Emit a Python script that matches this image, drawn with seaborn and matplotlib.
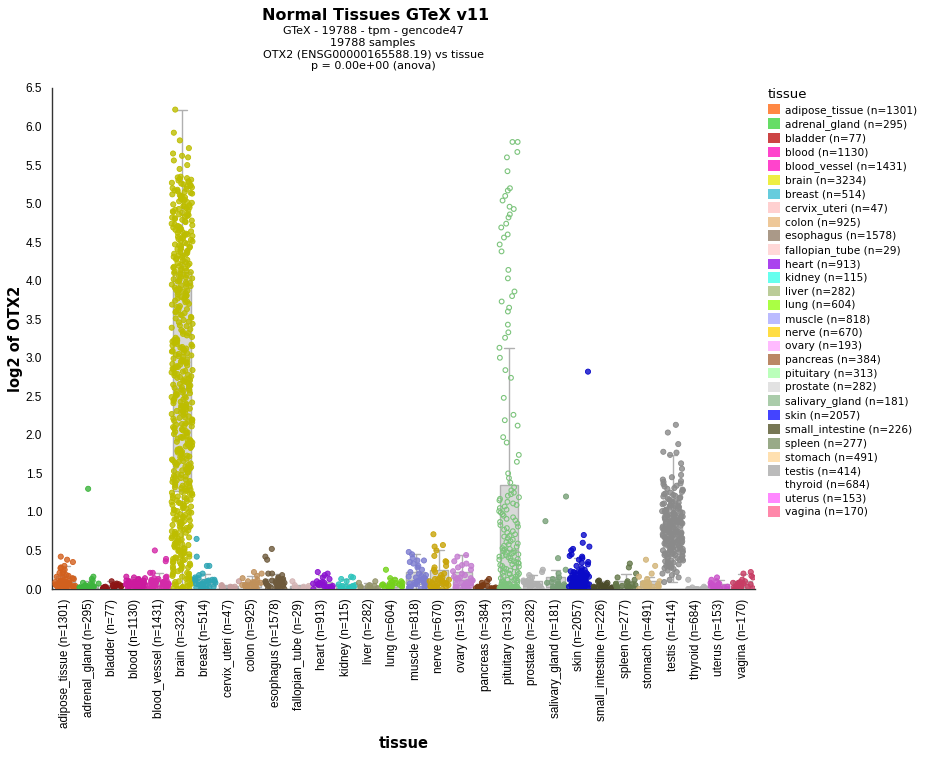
import numpy as np
import pandas as pd
import seaborn as sns
import matplotlib
import matplotlib.pyplot as plt
from matplotlib.patches import Patch

tissues = ["adipose_tissue", "adrenal_gland", "bladder", "blood", "blood_vessel", "brain",
           "breast", "cervix_uteri", "colon", "esophagus", "fallopian_tube", "heart",
           "kidney", "liver", "lung", "muscle", "nerve", "ovary", "pancreas", "pituitary",
           "prostate", "salivary_gland", "skin", "small_intestine", "spleen", "stomach",
           "testis", "thyroid", "uterus", "vagina"]
counts = [1301, 295, 77, 1130, 1431, 3234, 514, 47, 925, 1578, 29, 913, 115, 282, 604, 818,
          670, 193, 384, 313, 282, 181, 2057, 226, 277, 491, 414, 684, 153, 170]

# legend swatch colours
legend_colors = ["#ff8844", "#66dd66", "#cc4444", "#ff44cc", "#ff44cc", "#eeee44", "#66ccdd",
                 "#ffd0d0", "#eec899", "#aa9988", "#ffd8d8", "#aa44ee", "#66ffee", "#bbcc99",
                 "#aaff44", "#bbbbff", "#ffdd44", "#ffbbff", "#bb8866", "#bbffbb", "#e2e2e2",
                 "#aaccaa", "#4444ff", "#777755", "#99aa88", "#ffe0b0", "#bbbbbb", "#ffffff",
                 "#ff88ff", "#ff88aa"]
# colours of the points in the plot
point_colors = ["#d2601e", "#3cb43c", "#8c1414", "#cc1a9e", "#d42aa8", "#bdbd00", "#2ea5b4",
                "#c8a0a0", "#c0905a", "#6e5a3c", "#d4b4b4", "#8a10d0", "#2cc4bc", "#94946a",
                "#74d21a", "#7c7cd0", "#c8a408", "#c47cd0", "#7a3a14", "#7cc47c", "#b0b0b0",
                "#78a078", "#0a0ac8", "#4a4a28", "#64784a", "#d2b478", "#8a8a8a", "#b4b4b4",
                "#c850c8", "#c83c64"]

# log2 expression values (a sample of each tissue)
adipose_tissue = [0.0, 0.01, 0.02, 0.02, 0.03, 0.03, 0.04, 0.04, 0.05, 0.05, 0.06, 0.06, 0.07, 0.07,
                  0.08, 0.08, 0.09, 0.09, 0.1, 0.1, 0.11, 0.11, 0.12, 0.01, 0.03, 0.05, 0.07, 0.09,
                  0.0, 0.02, 0.04, 0.06, 0.13, 0.14, 0.15, 0.16, 0.17, 0.18, 0.2, 0.21, 0.22, 0.25,
                  0.27, 0.28, 0.3, 0.35, 0.38, 0.42]
adrenal_gland = [0.0, 0.0, 0.01, 0.01, 0.01, 0.02, 0.02, 0.02, 0.03, 0.03, 0.03, 0.04, 0.04, 0.05,
                 0.05, 0.06, 0.0, 0.01, 0.02, 0.03, 0.07, 0.08, 0.11, 0.13, 0.16, 1.3]
bladder = [0.0, 0.0, 0.01, 0.01, 0.02, 0.02, 0.02, 0.03, 0.03, 0.04, 0.04, 0.05, 0.05, 0.01, 0.03,
           0.06, 0.07, 0.1]
blood = [0.0, 0.0, 0.01, 0.01, 0.02, 0.02, 0.03, 0.03, 0.04, 0.04, 0.05, 0.05, 0.06, 0.06, 0.07,
         0.07, 0.08, 0.08, 0.09, 0.09, 0.1, 0.1, 0.11, 0.11, 0.12, 0.02, 0.04, 0.06, 0.08, 0.1,
         0.03, 0.05, 0.07, 0.13, 0.14, 0.15, 0.16]
blood_vessel = [0.0, 0.0, 0.01, 0.01, 0.02, 0.02, 0.03, 0.03, 0.04, 0.04, 0.05, 0.05, 0.06, 0.06,
                0.07, 0.07, 0.08, 0.08, 0.09, 0.09, 0.1, 0.1, 0.11, 0.11, 0.12, 0.02, 0.04, 0.06,
                0.08, 0.1, 0.03, 0.05, 0.07, 0.09, 0.13, 0.14, 0.15, 0.16, 0.21, 0.21, 0.36, 0.39,
                0.5]
brain = [0.0, 0.0, 0.01, 0.01, 0.02, 0.03, 0.04, 0.05, 0.07, 0.08, 0.1, 0.12, 0.13, 0.15, 0.17,
         0.19, 0.21, 0.23, 0.02, 0.06, 0.11, 0.16, 0.2,
         0.26, 0.27, 0.29, 0.31, 0.32, 0.34, 0.36, 0.37, 0.39, 0.41, 0.43, 0.44, 0.46, 0.48,
         0.51, 0.52, 0.54, 0.55, 0.57, 0.59, 0.61, 0.62, 0.64, 0.66, 0.68, 0.7, 0.71, 0.73,
         0.76, 0.77, 0.79, 0.81, 0.83, 0.84, 0.86, 0.88, 0.9, 0.91, 0.93, 0.95, 0.97, 0.99,
         1.01, 1.02, 1.04, 1.06, 1.08, 1.09, 1.11, 1.13, 1.15, 1.17, 1.18, 1.2, 1.22, 1.24,
         1.26, 1.28, 1.3, 1.31, 1.33, 1.35, 1.37, 1.39, 1.4, 1.42, 1.44, 1.46, 1.48,
         1.51, 1.53, 1.54, 1.56, 1.58, 1.6, 1.62, 1.63, 1.65, 1.67, 1.69, 1.71, 1.73,
         1.76, 1.78, 1.8, 1.81, 1.83, 1.85, 1.87, 1.89, 1.91, 1.92, 1.94, 1.96, 1.98,
         2.01, 2.03, 2.04, 2.06, 2.08, 2.1, 2.12, 2.14, 2.15, 2.17, 2.19, 2.21, 2.23,
         2.26, 2.28, 2.3, 2.32, 2.34, 2.35, 2.37, 2.39, 2.41, 2.43, 2.45, 2.47, 2.49,
         2.51, 2.53, 2.55, 2.57, 2.6, 2.62, 2.64, 2.66, 2.68, 2.7, 2.72, 2.74,
         2.76, 2.78, 2.8, 2.82, 2.84, 2.86, 2.88, 2.9, 2.92, 2.94, 2.96, 2.98,
         3.01, 3.03, 3.05, 3.07, 3.09, 3.11, 3.13, 3.15, 3.17, 3.19, 3.21, 3.23,
         3.26, 3.29, 3.31, 3.34, 3.36, 3.39, 3.42, 3.44, 3.47, 3.49,
         3.51, 3.53, 3.56, 3.58, 3.6, 3.62, 3.65, 3.67, 3.69, 3.72, 3.74,
         3.76, 3.78, 3.8, 3.82, 3.85, 3.87, 3.89, 3.91, 3.93, 3.95, 3.97, 3.99,
         4.01, 4.03, 4.05, 4.07, 4.09, 4.11, 4.13, 4.15, 4.17, 4.19, 4.21, 4.23,
         4.26, 4.28, 4.3, 4.32, 4.34, 4.36, 4.38, 4.4, 4.42, 4.44, 4.46, 4.48,
         4.51, 4.53, 4.55, 4.57, 4.59, 4.61, 4.63, 4.65, 4.67, 4.69, 4.71, 4.73,
         4.76, 4.78, 4.8, 4.82, 4.84, 4.86, 4.88, 4.9, 4.92, 4.94, 4.96, 4.98,
         5.01, 5.03, 5.05, 5.07, 5.09, 5.11, 5.13, 5.15, 5.17, 5.19, 5.21, 5.23, 5.25, 5.27,
         5.29, 5.31, 5.33, 5.35, 5.45, 5.5, 5.56, 5.6, 5.62, 5.65, 5.72, 5.82, 5.92, 6.22,
         0.06, 0.09, 0.14, 0.18, 0.22, 0.25, 0.28, 0.3, 0.33, 0.35, 0.38, 0.4, 0.42, 0.45, 0.47,
         0.49, 0.5, 0.53, 0.56, 0.58, 0.6, 0.63, 0.65, 0.67, 0.69, 0.72, 0.74, 0.75, 0.78, 0.8,
         0.82, 0.85, 0.87, 0.89, 0.92, 0.94, 0.96, 0.98, 1.0, 1.03, 1.05, 1.07, 1.1, 1.12, 1.14,
         1.16, 1.19, 1.21, 1.23, 1.25, 1.27, 1.29, 1.32, 1.34, 1.36, 1.38, 1.41, 1.43, 1.45,
         1.47, 1.49, 1.52, 1.55, 1.57, 1.59, 1.61, 1.64, 1.66, 1.68, 1.7, 1.72, 1.74, 1.77,
         1.79, 1.82, 1.84, 1.86, 1.88, 1.9, 1.93, 1.95, 1.97, 1.99, 2.02, 2.05, 2.07, 2.09,
         2.11, 2.13, 2.16, 2.18, 2.2, 2.22, 2.24, 2.27, 2.29, 2.31, 2.33, 2.36, 2.38, 2.4, 2.42,
         2.44, 2.46, 2.48, 2.5, 2.52, 2.54, 2.56, 2.58, 2.59, 2.61, 2.63, 2.65, 2.67, 2.69,
         2.71, 2.73, 2.75, 2.77, 2.79, 2.81, 2.83, 2.85, 2.87, 2.89, 2.91, 2.93, 2.95, 2.97,
         2.99, 3.02, 3.04, 3.06, 3.08, 3.1, 3.12, 3.14, 3.16, 3.18, 3.2, 3.22, 3.24, 3.27, 3.32,
         3.37, 3.41, 3.46, 3.52, 3.55, 3.59, 3.63, 3.66, 3.7, 3.73, 3.77, 3.79, 3.81, 3.84,
         3.86, 3.88, 3.9, 3.92, 3.94, 3.96, 3.98, 4.0, 4.02, 4.04, 4.06, 4.08, 4.1, 4.12, 4.14,
         4.16, 4.18, 4.2, 4.22, 4.24, 4.27, 4.29, 4.31, 4.33, 4.35, 4.37, 4.39, 4.41, 4.43,
         4.45, 4.47, 4.49, 4.52, 4.54, 4.56, 4.58, 4.6, 4.62, 4.64, 4.66, 4.68, 4.7, 4.72,
         4.74, 4.77, 4.79, 4.81, 4.83, 4.85, 4.87, 4.89, 4.91, 4.93, 4.95, 4.97, 4.99, 5.02,
         5.04, 5.06, 5.08, 5.1, 5.12, 5.14, 5.16, 5.18, 5.2, 5.22, 5.24, 5.26, 5.28, 5.3, 5.32,
         5.34]
breast = [0.0, 0.0, 0.01, 0.02, 0.03, 0.04, 0.05, 0.06, 0.07, 0.08, 0.09, 0.1, 0.11, 0.12, 0.13,
          0.14, 0.15, 0.02, 0.04, 0.06, 0.08, 0.1, 0.12, 0.03, 0.07, 0.11, 0.18, 0.2, 0.3, 0.3,
          0.42, 0.65]
cervix_uteri = [0.0, 0.01, 0.01, 0.02, 0.03, 0.03, 0.04, 0.05, 0.02, 0.1]
colon = [0.0, 0.0, 0.01, 0.02, 0.03, 0.04, 0.05, 0.06, 0.07, 0.08, 0.09, 0.1, 0.02, 0.04, 0.06,
         0.08, 0.03, 0.05, 0.07, 0.09, 0.12, 0.14, 0.17, 0.2, 0.22]
esophagus = [0.0, 0.0, 0.01, 0.02, 0.03, 0.04, 0.05, 0.06, 0.07, 0.08, 0.09, 0.1, 0.11, 0.12, 0.13,
             0.14, 0.15, 0.02, 0.04, 0.06, 0.08, 0.1, 0.12, 0.03, 0.05, 0.07, 0.09, 0.11, 0.18,
             0.2, 0.2, 0.38, 0.42, 0.52]
fallopian_tube = [0.0, 0.01, 0.02, 0.02, 0.03, 0.04, 0.05, 0.1]
heart = [0.0, 0.0, 0.01, 0.02, 0.03, 0.04, 0.05, 0.06, 0.07, 0.08, 0.09, 0.1, 0.02, 0.04, 0.06,
         0.08, 0.03, 0.05, 0.07, 0.13, 0.15, 0.18, 0.2, 0.22]
kidney = [0.0, 0.0, 0.01, 0.02, 0.03, 0.04, 0.05, 0.06, 0.02, 0.04, 0.01, 0.03, 0.1, 0.13, 0.15,
          0.16]
liver = [0.0, 0.0, 0.01, 0.02, 0.02, 0.03, 0.04, 0.05, 0.01, 0.03, 0.08, 0.1]
lung = [0.0, 0.0, 0.01, 0.02, 0.03, 0.04, 0.05, 0.06, 0.07, 0.08, 0.09, 0.1, 0.02, 0.04, 0.06,
        0.08, 0.03, 0.05, 0.12, 0.14, 0.25]
muscle = [0.0, 0.0, 0.01, 0.02, 0.03, 0.04, 0.05, 0.06, 0.07, 0.08, 0.09, 0.1, 0.11, 0.12, 0.13,
          0.14, 0.15, 0.16, 0.17, 0.18, 0.2, 0.22, 0.02, 0.05, 0.08, 0.11, 0.14, 0.03, 0.06,
          0.09, 0.12, 0.25, 0.28, 0.3, 0.33, 0.35, 0.37, 0.37, 0.4, 0.45, 0.48]
nerve = [0.0, 0.0, 0.01, 0.02, 0.03, 0.04, 0.05, 0.06, 0.07, 0.08, 0.09, 0.1, 0.11, 0.12, 0.13,
         0.14, 0.15, 0.02, 0.04, 0.06, 0.08, 0.1, 0.12, 0.03, 0.07, 0.18, 0.2, 0.22, 0.25, 0.28,
         0.3, 0.35, 0.36, 0.43, 0.5, 0.55, 0.57, 0.71]
ovary = [0.0, 0.0, 0.01, 0.02, 0.03, 0.04, 0.05, 0.06, 0.07, 0.08, 0.09, 0.1, 0.11, 0.12, 0.13,
         0.14, 0.15, 0.16, 0.18, 0.2, 0.02, 0.05, 0.08, 0.11, 0.14, 0.23, 0.25, 0.28, 0.3, 0.31,
         0.33, 0.36, 0.42, 0.44]
pancreas = [0.0, 0.0, 0.01, 0.01, 0.02, 0.02, 0.03, 0.03, 0.04, 0.05, 0.01, 0.02, 0.03, 0.04,
            0.08, 0.1, 0.13]
pituitary = [0.0, 0.0, 0.0, 0.0, 0.0, 0.0, 0.0, 0.0, 0.0, 0.0, 0.01, 0.01, 0.01, 0.01, 0.01,
             0.01, 0.01, 0.01, 0.02, 0.02, 0.02, 0.02, 0.02, 0.02, 0.02, 0.03, 0.03, 0.03, 0.03,
             0.03, 0.03, 0.03, 0.04, 0.04, 0.04, 0.05, 0.05, 0.06, 0.06, 0.07, 0.07, 0.08, 0.08,
             0.09, 0.1, 0.1, 0.11, 0.12, 0.12, 0.13, 0.14, 0.15, 0.16, 0.17, 0.18, 0.19, 0.2,
             0.2, 0.21, 0.22, 0.23, 0.24, 0.25, 0.26, 0.27, 0.28, 0.29, 0.3, 0.31, 0.32, 0.33,
             0.34, 0.35, 0.36, 0.37, 0.38, 0.39, 0.4, 0.41, 0.42, 0.43, 0.44, 0.45, 0.46, 0.47,
             0.48, 0.49, 0.5, 0.51, 0.52, 0.53, 0.55, 0.56, 0.58, 0.59, 0.61, 0.62, 0.64, 0.66,
             0.68, 0.69, 0.71, 0.73, 0.75, 0.77, 0.79, 0.81, 0.83, 0.85, 0.87, 0.89, 0.91, 0.93,
             0.95, 0.97, 0.99, 1.01, 1.03, 1.05, 1.07, 1.09, 1.11, 1.13, 1.15, 1.17, 1.19, 1.21,
             1.23, 1.25,
             1.28, 1.32, 1.38, 1.44, 1.5, 1.65, 1.74, 1.9, 1.97, 2.12, 2.19, 2.26, 2.48, 2.74,
             2.84, 3.0, 3.13, 3.26, 3.33, 3.43, 3.6, 3.65, 3.73, 3.8, 3.86, 4.03, 4.14, 4.38,
             4.47, 4.56, 4.6, 4.69, 4.74, 4.82, 4.86, 4.93, 4.96, 5.04, 5.1, 5.17, 5.2, 5.42,
             5.6, 5.67, 5.8, 5.8]
prostate = [0.0, 0.0, 0.01, 0.02, 0.03, 0.04, 0.05, 0.06, 0.07, 0.08, 0.09, 0.1, 0.11, 0.12,
            0.02, 0.04, 0.06, 0.08, 0.15, 0.18, 0.22, 0.25]
salivary_gland = [0.0, 0.0, 0.01, 0.02, 0.03, 0.04, 0.05, 0.06, 0.07, 0.08, 0.09, 0.1, 0.02,
                  0.05, 0.13, 0.15, 0.2, 0.25, 0.4, 0.88, 1.2]
skin = [0.0, 0.0, 0.01, 0.01, 0.02, 0.02, 0.03, 0.03, 0.04, 0.04, 0.05, 0.05, 0.06, 0.06, 0.07,
        0.07, 0.08, 0.08, 0.09, 0.09, 0.1, 0.1, 0.11, 0.11, 0.12, 0.12, 0.13, 0.13, 0.14, 0.14,
        0.15, 0.15, 0.16, 0.16, 0.17, 0.17, 0.18, 0.18, 0.19, 0.2, 0.21, 0.22, 0.23, 0.24, 0.25,
        0.02, 0.04, 0.06, 0.08, 0.1, 0.12, 0.14, 0.16, 0.03, 0.07, 0.11, 0.27, 0.3, 0.32, 0.34,
        0.35, 0.38, 0.4, 0.42, 0.43, 0.45, 0.5, 0.52, 0.55, 0.6, 0.7, 2.82, 0.01, 0.03, 0.05,
        0.07, 0.09, 0.11, 0.13, 0.15, 0.17, 0.19, 0.21, 0.23, 0.0, 0.02, 0.04, 0.06, 0.08, 0.1,
        0.12, 0.14, 0.16, 0.18, 0.2, 0.22]
small_intestine = [0.0, 0.0, 0.01, 0.01, 0.02, 0.02, 0.03, 0.03, 0.04, 0.05, 0.06, 0.01, 0.03,
                   0.05, 0.08, 0.1, 0.11]
spleen = [0.0, 0.0, 0.01, 0.02, 0.03, 0.04, 0.05, 0.06, 0.07, 0.08, 0.02, 0.04, 0.06, 0.03, 0.1,
          0.12, 0.15, 0.2, 0.28, 0.33]
stomach = [0.0, 0.0, 0.01, 0.02, 0.03, 0.04, 0.05, 0.06, 0.07, 0.08, 0.09, 0.1, 0.02, 0.04,
           0.06, 0.08, 0.03, 0.13, 0.16, 0.2, 0.3, 0.38]
testis = [0.09, 0.12, 0.15, 0.18, 0.2, 0.22, 0.24, 0.26, 0.28, 0.3, 0.31, 0.33, 0.34, 0.36, 0.37,
          0.38, 0.4, 0.41, 0.42, 0.43, 0.44, 0.45, 0.46, 0.47, 0.48, 0.49, 0.5, 0.51, 0.52, 0.53,
          0.54, 0.55, 0.56, 0.57, 0.58, 0.59, 0.6, 0.6, 0.61, 0.62, 0.63, 0.64, 0.65, 0.66, 0.67,
          0.68, 0.69, 0.7, 0.7, 0.71, 0.72, 0.73, 0.74, 0.75, 0.76, 0.77, 0.78, 0.79, 0.8, 0.8,
          0.81, 0.82, 0.83, 0.84, 0.85, 0.86, 0.87, 0.88, 0.89, 0.9, 0.91, 0.92, 0.93, 0.94,
          0.95, 0.96, 0.97, 0.98, 0.99, 1.0, 1.01, 1.02, 1.03, 1.05, 1.06, 1.07, 1.09, 1.1, 1.12,
          1.13, 1.15, 1.17, 1.19, 1.21, 1.23, 1.25, 1.28, 1.3, 1.33, 1.36, 1.39, 1.42, 1.45,
          1.48, 1.56, 1.63, 1.74, 1.77, 1.78, 1.88, 2.03, 2.13, 0.35, 0.45, 0.55, 0.65, 0.75,
          0.85, 0.95, 1.08, 0.5, 0.62, 0.72, 0.82, 0.92,
          0.39, 0.41, 0.44, 0.46, 0.48, 0.5, 0.52, 0.54, 0.56, 0.58, 0.59, 0.61, 0.63, 0.64, 0.66,
          0.67, 0.68, 0.69, 0.71, 0.73, 0.74, 0.76, 0.77, 0.78, 0.79, 0.81, 0.83, 0.84, 0.86,
          0.87, 0.88, 0.9, 0.91, 0.93, 0.94, 0.96, 0.97, 0.99, 1.0, 1.02, 1.04, 1.06, 1.08, 1.11,
          1.14, 1.16, 1.18, 1.2, 1.22, 1.24, 1.26, 1.29, 1.31, 1.34, 1.37, 1.4, 0.27, 0.29, 0.32,
          0.35, 0.37]
thyroid = [0.0, 0.0, 0.0, 0.0, 0.0, 0.0, 0.0, 0.0, 0.01, 0.01, 0.02, 0.03, 0.12]
uterus = [0.0, 0.0, 0.01, 0.02, 0.03, 0.04, 0.05, 0.06, 0.07, 0.08, 0.02, 0.04, 0.06, 0.03, 0.1,
          0.12, 0.15]
vagina = [0.0, 0.0, 0.01, 0.02, 0.03, 0.04, 0.05, 0.06, 0.07, 0.08, 0.09, 0.1, 0.02, 0.04, 0.06,
          0.08, 0.12, 0.15, 0.17, 0.2, 0.22]

values = [adipose_tissue, adrenal_gland, bladder, blood, blood_vessel, brain, breast, cervix_uteri,
          colon, esophagus, fallopian_tube, heart, kidney, liver, lung, muscle, nerve, ovary,
          pancreas, pituitary, prostate, salivary_gland, skin, small_intestine, spleen, stomach,
          testis, thyroid, uterus, vagina]

labels = [f"{t} (n={n})" for t, n in zip(tissues, counts)]
rows = []
for lab, vals in zip(labels, values):
    for v in vals:
        rows.append((lab, v))
df = pd.DataFrame(rows, columns=["tissue", "value"])
palette = dict(zip(labels, point_colors))

np.random.seed(3)
sns.set_style("white")
plt.rcParams["font.family"] = ["DejaVu Sans"]
plt.rcParams["text.color"] = "black"
plt.rcParams["axes.labelcolor"] = "black"
plt.rcParams["xtick.color"] = "black"
plt.rcParams["ytick.color"] = "black"

fig = plt.figure(figsize=(9.47, 7.61), dpi=100)
ax = fig.add_axes([52 / 947, 1 - 589 / 761, 703 / 947, 501 / 761])

sns.boxplot(data=df, x="tissue", y="value", order=labels, color="#d8d8d8", width=0.8,
            showfliers=False, linecolor="#b0b0b0", linewidth=1, saturation=1, ax=ax)

pit_label = labels[tissues.index("pituitary")]
n0 = len(ax.collections)
sns.stripplot(data=df[df["tissue"] != pit_label], x="tissue", y="value", order=labels,
              hue="tissue", palette=palette, jitter=0.45, size=3.7, legend=False, ax=ax)
for coll in ax.collections[n0:]:
    fc = coll.get_facecolors()
    coll.set_edgecolor(fc)
    fc2 = fc.copy()
    fc2[:, 3] = 0.8
    coll.set_facecolor(fc2)
    coll.set_linewidth(0.6)

n1 = len(ax.collections)
sns.stripplot(data=df[df["tissue"] == pit_label], x="tissue", y="value", order=labels,
              hue="tissue", palette=palette, jitter=0.43, size=3.4, legend=False, ax=ax)
for coll in ax.collections[n1:]:
    coll.set_edgecolor(palette[pit_label])
    coll.set_facecolor("none")
    coll.set_linewidth(0.8)

ax.set_xlim(-0.57, 29.53)
ax.set_ylim(0, 6.5)
ax.set_yticks([i * 0.5 for i in range(14)])
ax.set_yticklabels([f"{i * 0.5:.1f}" for i in range(14)], family="Liberation Sans", fontsize=8.5)
ax.set_xticks(range(len(labels)))
ax.set_xticklabels(labels, rotation=90, family="Liberation Sans", fontsize=8.5)
ax.tick_params(axis="both", direction="out", length=5, width=1, color="#333333", pad=2)
for s in ["top", "right"]:
    ax.spines[s].set_visible(False)
for s in ["left", "bottom"]:
    ax.spines[s].set_color("#333333")
    ax.spines[s].set_linewidth(1)

ax.set_xlabel("tissue", fontsize=10.5, weight="bold")
ax.xaxis.set_label_coords(0.5, -(744 - 589) / 501)
ax.xaxis.label.set_va("center")
ax.set_ylabel("log2 of OTX2", fontsize=10.5, weight="bold")
ax.yaxis.set_label_coords(-(52 - 16) / 703, 0.5)
ax.yaxis.label.set_va("center")

fig.text(376 / 947, 1 - 15 / 761, "Normal Tissues GTeX v11", ha="center", va="center",
         fontsize=11.5, weight="bold")
subtitle = ["GTeX - 19788 - tpm - gencode47", "19788 samples",
            "OTX2 (ENSG00000165588.19) vs tissue", "p = 0.00e+00 (anova)"]
for i, line in enumerate(subtitle):
    fig.text(373 / 947, 1 - (31 + 11.7 * i) / 761, line, ha="center", va="center", fontsize=8)

handles = [Patch(facecolor=c, edgecolor="none", label=lab) for c, lab in zip(legend_colors, labels)]
leg = fig.legend(handles=handles, title="tissue", loc="upper left",
                 bbox_to_anchor=(768 / 947, 1 - 88 / 761), frameon=False, fontsize=7.6,
                 title_fontsize=9.5, handlelength=1.15, handleheight=1.15, handletextpad=0.45,
                 labelspacing=0.27, borderpad=0, borderaxespad=0)
leg._legend_box.align = "left"

fig.savefig("out.png", dpi=100)
